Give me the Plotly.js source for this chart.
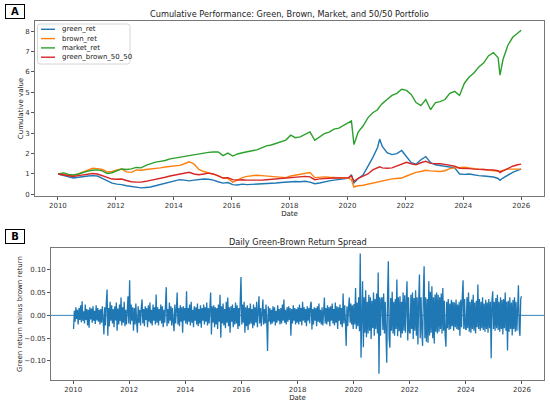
<!DOCTYPE html>
<html>
<head>
<meta charset="utf-8">
<script src="https://cdn.plot.ly/plotly-3.0.1.min.js"></script>
<style>html,body{margin:0;padding:0;background:#fff;}#chart{width:550px;height:403px;}</style>
</head>
<body>
<div id="chart"></div>
<script>
// ---- Panel A data (cumulative value) ----
const dates = [
 "2010-01-04","2010-03-15","2010-05-15","2010-07-15","2010-09-15","2010-11-15",
 "2011-01-15","2011-03-15","2011-05-15","2011-07-15","2011-09-15","2011-11-15",
 "2012-01-15","2012-03-15","2012-05-15","2012-07-15","2012-09-15","2012-11-15",
 "2013-01-15","2013-03-15","2013-05-15","2013-07-15","2013-09-15","2013-11-15",
 "2014-01-15","2014-03-15","2014-05-15","2014-07-15","2014-09-15","2014-11-15",
 "2015-01-15","2015-03-15","2015-05-15","2015-07-15","2015-09-15","2015-11-15",
 "2016-01-15","2016-03-15","2016-05-15","2016-07-15","2016-09-15","2016-11-15",
 "2017-01-15","2017-03-15","2017-05-15","2017-07-15","2017-09-15","2017-11-15",
 "2018-01-15","2018-03-15","2018-05-15","2018-07-15","2018-09-15","2018-11-15",
 "2019-01-15","2019-03-15","2019-05-15","2019-07-15","2019-09-15","2019-11-15",
 "2020-01-15","2020-02-20","2020-03-23","2020-05-15","2020-07-15","2020-09-15","2020-11-15",
 "2021-01-15","2021-02-10","2021-03-15","2021-05-15","2021-07-15","2021-09-15","2021-11-15",
 "2022-01-15","2022-03-15","2022-05-15","2022-07-15","2022-09-15","2022-11-15",
 "2023-01-15","2023-03-15","2023-05-15","2023-07-15","2023-09-15","2023-11-15",
 "2024-01-15","2024-03-15","2024-05-15","2024-07-15","2024-09-15","2024-11-15",
 "2025-01-15","2025-03-15","2025-04-08","2025-05-15","2025-07-15","2025-09-15","2025-11-15","2025-12-31"
];
const greenRet = [
 1.00,0.92,0.85,0.80,0.84,0.88, 0.90,0.92,0.90,0.78,0.68,0.55,
 0.50,0.48,0.42,0.38,0.36,0.32, 0.34,0.36,0.42,0.48,0.52,0.58,
 0.66,0.72,0.70,0.66,0.70,0.74, 0.75,0.74,0.70,0.62,0.55,0.58,
 0.48,0.46,0.50,0.48,0.49,0.50, 0.50,0.52,0.54,0.56,0.58,0.60,
 0.62,0.63,0.62,0.64,0.60,0.52, 0.56,0.62,0.66,0.70,0.72,0.76,
 0.80,0.96,0.56,0.78,0.95,1.35,1.80, 2.30,2.71,2.35,2.05,1.95,2.00,2.15,
 1.85,1.55,1.48,1.70,1.85,1.55, 1.45,1.42,1.38,1.35,1.30,1.00,
 0.98,1.00,0.95,0.92,0.90,0.88, 0.85,0.78,0.69,0.80,0.96,1.08,1.18,1.24
];
const brownRet = [
 1.00,0.98,0.93,0.92,1.00,1.10, 1.20,1.28,1.26,1.22,1.10,1.12,
 1.20,1.24,1.10,1.08,1.20,1.18, 1.22,1.24,1.26,1.30,1.34,1.37,
 1.38,1.42,1.50,1.60,1.48,1.22, 1.12,1.06,1.02,0.92,0.80,0.78,
 0.60,0.72,0.82,0.88,0.92,0.94, 0.92,0.90,0.88,0.86,0.84,0.82,
 0.90,0.94,0.98,1.04,1.07,0.82, 0.84,0.86,0.84,0.82,0.82,0.80,
 0.80,0.72,0.36,0.42,0.45,0.50,0.55, 0.60,0.64,0.68,0.72,0.76,0.78,0.80,
 0.90,1.00,1.08,1.12,1.18,1.15, 1.14,1.12,1.16,1.26,1.30,1.32,
 1.33,1.30,1.26,1.24,1.22,1.20, 1.18,1.14,1.12,1.18,1.24,1.24,1.24,1.24
];
const marketRet = [
 1.00,1.05,0.98,0.95,1.00,1.08, 1.14,1.18,1.20,1.15,1.02,1.06,
 1.15,1.25,1.22,1.25,1.32,1.30, 1.42,1.50,1.58,1.62,1.66,1.74,
 1.78,1.82,1.86,1.92,1.95,2.00, 2.02,2.06,2.08,2.08,1.90,2.02,
 1.88,1.98,2.04,2.10,2.14,2.18, 2.30,2.38,2.42,2.50,2.56,2.66,
 2.90,2.78,2.82,2.95,3.06,2.65, 2.80,2.98,3.05,3.20,3.25,3.38,
 3.50,3.60,2.44,3.05,3.35,3.75,4.00, 4.15,4.30,4.45,4.65,4.85,4.95,5.15,
 5.10,4.90,4.50,4.35,4.65,4.15, 4.50,4.55,4.65,4.95,5.05,4.85,
 5.45,5.75,5.95,6.25,6.45,6.80, 6.95,6.70,5.85,6.60,7.30,7.70,7.90,8.05
];
const greenBrown5050 = [
 1.00,0.95,0.90,0.88,0.92,0.96, 1.00,1.02,1.00,0.92,0.85,0.75,
 0.74,0.75,0.68,0.62,0.60,0.60, 0.64,0.68,0.72,0.78,0.84,0.90,
 0.94,0.98,1.04,1.08,1.00,0.96, 1.00,1.04,1.00,0.90,0.80,0.82,
 0.72,0.70,0.72,0.70,0.69,0.70, 0.70,0.72,0.74,0.76,0.78,0.80,
 0.82,0.84,0.86,0.88,0.86,0.72, 0.76,0.78,0.80,0.80,0.80,0.80,
 0.82,0.91,0.64,0.78,0.90,1.00,1.20, 1.28,1.35,1.30,1.28,1.30,1.40,1.50,
 1.57,1.50,1.45,1.55,1.62,1.52, 1.52,1.50,1.47,1.44,1.38,1.28,
 1.28,1.26,1.24,1.24,1.22,1.20, 1.20,1.16,1.07,1.15,1.28,1.38,1.45,1.48
];
const seriesNames = ['green_ret','brown_ret','market_ret','green_brown_50_50'];

// ---- Panel B data (green minus brown daily spread, readings spread evenly through each year) ----
const spreadYears = [2010,2011,2012,2013,2014,2015,2016,2017,2018,2019,2020,2021,2022,2023,2024,2025];
const spreadByYear = [
 [-0.030,0.010,-0.014,0.018,-0.008,0.012,-0.020,0.016,-0.010,0.022,-0.015,0.031,-0.012,0.009,-0.018,0.024,-0.010,0.014,-0.022,0.012,-0.027,0.018,-0.009,0.015,-0.016,0.020,-0.012,0.010,-0.019,0.022,-0.011,0.016,-0.014,0.012,-0.020,0.014],
 [-0.016,0.020,-0.010,-0.042,0.018,-0.022,0.025,0.057,-0.045,0.016,-0.024,0.030,-0.012,0.022,-0.018,0.014,-0.026,0.020,-0.011,0.028,-0.034,0.015,-0.020,0.024,-0.013,0.039,-0.022,0.018,-0.016,0.030,-0.024,0.012,-0.020,0.026,0.042,-0.018],
 [0.077,-0.020,0.024,-0.012,0.018,-0.034,0.016,-0.020,0.026,-0.014,-0.038,0.020,-0.016,0.012,-0.022,0.018,0.035,-0.018,0.014,-0.024,0.020,-0.010,0.016,-0.026,0.022,-0.014,0.028,-0.018,0.012,-0.022,0.024,-0.012,0.018,-0.020,0.046,-0.016],
 [0.018,-0.022,0.014,-0.012,0.024,-0.018,0.020,-0.026,0.012,-0.016,0.022,0.062,-0.024,0.014,-0.018,0.028,-0.012,0.020,-0.022,0.016,-0.014,-0.035,0.024,-0.018,0.012,0.050,-0.020,0.016,-0.024,0.022,-0.014,0.018,-0.038,0.020,-0.012,0.016],
 [-0.018,0.053,-0.020,0.016,-0.014,0.024,-0.022,0.030,-0.016,0.012,-0.026,0.020,-0.012,0.018,-0.020,0.026,-0.024,0.014,-0.018,0.022,-0.027,0.016,-0.012,0.024,-0.020,0.018,-0.014,0.028,-0.022,0.016,-0.018,0.034,0.050,-0.042,0.020,-0.016],
 [0.022,-0.026,0.018,-0.020,0.016,-0.030,0.024,-0.014,0.045,-0.049,0.020,-0.018,0.026,-0.022,0.014,-0.028,0.030,-0.016,0.039,-0.024,0.018,-0.038,0.020,-0.014,0.024,-0.026,0.016,-0.020,0.028,-0.018,0.022,-0.030,0.016,-0.024,0.020,0.084],
 [-0.020,0.024,-0.016,0.030,-0.038,0.018,-0.024,0.022,-0.032,0.016,-0.020,0.026,-0.018,0.014,-0.028,0.024,-0.022,0.018,-0.016,0.030,-0.026,0.020,0.042,-0.018,0.016,-0.024,0.022,0.035,-0.020,0.014,-0.018,0.024,-0.016,-0.078,0.020,-0.014],
 [0.016,-0.020,0.012,-0.018,0.020,-0.014,0.018,-0.022,0.010,-0.016,0.022,-0.012,0.014,-0.020,0.016,-0.018,0.024,-0.012,0.035,-0.016,0.012,-0.020,0.018,-0.014,0.020,-0.010,0.016,-0.045,0.014,-0.018,0.022,-0.012,0.016,-0.020,0.014,-0.016],
 [0.018,-0.020,0.024,-0.014,0.016,-0.022,0.030,-0.012,0.018,-0.016,0.014,-0.024,0.020,-0.012,0.016,-0.018,0.022,0.030,-0.031,0.014,-0.020,0.018,-0.012,0.016,-0.024,0.020,-0.014,0.026,-0.016,0.012,-0.020,0.018,-0.022,0.014,0.039,-0.018],
 [0.016,-0.020,0.022,-0.014,0.018,-0.024,0.020,-0.012,0.026,-0.018,0.014,-0.022,0.028,-0.016,0.020,-0.030,0.018,-0.012,0.024,-0.020,0.016,-0.026,0.048,-0.018,0.022,-0.014,-0.067,0.020,-0.024,0.018,0.039,-0.016,0.026,-0.020,0.022,-0.030],
 [0.025,-0.020,0.060,-0.030,0.028,-0.024,0.040,-0.035,0.136,-0.093,0.045,0.075,-0.070,0.040,-0.038,0.055,-0.048,0.030,-0.040,0.045,-0.034,0.040,-0.052,0.032,-0.028,0.050,-0.045,0.036,-0.030,0.048,-0.040,0.094,-0.128,0.040,-0.045,0.035],
 [0.040,-0.032,0.048,-0.040,0.030,-0.050,-0.104,0.045,0.119,-0.050,-0.071,0.038,-0.034,0.052,-0.040,0.030,-0.045,0.036,-0.030,0.079,-0.046,0.040,-0.035,0.042,-0.049,0.030,-0.040,0.050,-0.034,0.044,-0.038,0.030,0.075,-0.055,0.040,-0.036],
 [-0.040,0.045,-0.030,0.050,-0.052,0.038,-0.034,0.055,-0.045,0.040,-0.064,0.030,0.090,-0.050,0.040,-0.036,-0.067,0.048,0.108,-0.050,0.040,-0.058,0.036,-0.060,0.075,-0.044,0.052,-0.038,0.064,-0.050,0.040,-0.062,0.046,-0.036,0.050,-0.040],
 [0.045,-0.036,0.040,-0.030,0.048,-0.040,0.060,-0.034,0.032,-0.045,-0.069,0.030,-0.028,0.036,-0.032,0.026,-0.030,0.034,-0.024,0.030,-0.034,0.028,-0.026,0.035,-0.030,0.024,-0.032,0.030,-0.045,0.034,-0.026,0.040,0.077,-0.030,0.036,-0.028],
 [-0.032,0.040,-0.028,0.050,-0.036,0.030,-0.038,0.035,-0.030,0.045,-0.034,0.028,-0.040,0.032,-0.026,0.068,-0.030,0.036,-0.034,0.030,-0.028,0.040,-0.032,0.026,-0.036,0.034,-0.030,0.028,-0.038,0.036,-0.028,0.030,-0.094,0.032,0.053,-0.030],
 [0.030,-0.034,0.038,-0.028,0.045,-0.032,0.030,-0.036,0.040,-0.030,0.034,-0.042,0.036,-0.028,0.050,-0.034,0.030,-0.077,0.032,-0.036,0.040,-0.030,0.028,-0.044,0.034,-0.030,0.040,-0.036,0.030,-0.034,0.038,0.066,-0.030,-0.045,0.036,0.042]
];
const yTickVals = [-0.10,-0.05,0.00,0.05,0.10];
const yTickText = ["\u22120.10","\u22120.05","0.00","0.05","0.10"];

// calendar position of each spread reading
const spreadX = [], spreadY = [];
spreadYears.forEach((yr, i) => {
  const row = spreadByYear[i];
  const t0 = Date.UTC(yr,0,1), t1 = Date.UTC(yr+1,0,1);
  row.forEach((v, k) => {
    const t = t0 + (t1 - t0) * (k + 0.5) / row.length;
    spreadX.push(new Date(t).toISOString().slice(0,10));
    spreadY.push(v);
  });
});

const colors = ['#1f77b4','#ff7f0e','#2ca02c','#d62728'];
const tickFont = {family:'DejaVu Sans, sans-serif', size:7, color:'#333'};
const W = 550, H = 403;
const px = v => v / W, py = v => 1 - v / H;

const seriesVals = [greenRet, brownRet, marketRet, greenBrown5050];
const traces = seriesVals.map((vals, i) => ({
  x:dates, y:vals, name:seriesNames[i], mode:'lines', line:{color:colors[i], width:1.4},
  xaxis:'x', yaxis:'y'
}));
traces.push({x:spreadX, y:spreadY, name:'spread', mode:'lines', line:{color:colors[0], width:1.3},
  xaxis:'x2', yaxis:'y2'});

const xCommon = {
  type:'date', range:['2009-03-18','2026-10-15'], tick0:'2010-01-01', dtick:'M24', tickformat:'%Y',
  showgrid:false, zeroline:false, showline:true, mirror:true, linecolor:'#555', linewidth:0.8,
  ticks:'outside', ticklen:3, tickcolor:'#555', tickfont:tickFont
};

// legend (drawn as shapes + text so the rows are as tight as in the figure)
const lg = {x0:37.5, x1:130, y0:24, y1:64, r:2.5};
const rx = lg.r / W, ry = lg.r / H;
const X0 = px(lg.x0), X1 = px(lg.x1), Y0 = py(lg.y0), Y1 = py(lg.y1);
const boxPath = `M ${X0+rx},${Y0} L ${X1-rx},${Y0} Q ${X1},${Y0} ${X1},${Y0-ry} L ${X1},${Y1+ry} Q ${X1},${Y1} ${X1-rx},${Y1} L ${X0+rx},${Y1} Q ${X0},${Y1} ${X0},${Y1+ry} L ${X0},${Y0-ry} Q ${X0},${Y0} ${X0+rx},${Y0} Z`;
const legendRows = [29.3, 38.6, 47.9, 57.2];
const shapes = [
  {type:'line', xref:'x2 domain', yref:'y2', x0:0, x1:1, y0:0, y1:0, line:{color:colors[0], width:0.9}, layer:'below'},
  {type:'path', xref:'paper', yref:'paper', path:boxPath, fillcolor:'rgba(255,255,255,0.85)', line:{color:'#cccccc', width:0.8}, layer:'above'}
];
const annotations = [
  {text:'Cumulative Performance: Green, Brown, Market, and 50/50 Portfolio', xref:'paper', yref:'paper',
   x:px((35+544)/2), y:py(14), xanchor:'center', yanchor:'middle', showarrow:false, font:{size:8.2, color:'#222'}},
  {text:'Daily Green-Brown Return Spread', xref:'paper', yref:'paper',
   x:px((51+544)/2), y:py(242), xanchor:'center', yanchor:'middle', showarrow:false, font:{size:8.2, color:'#222'}},
  {text:'<b>A</b>', xref:'paper', yref:'paper', x:px(15), y:py(11), xanchor:'center', yanchor:'middle',
   showarrow:false, font:{size:10, color:'#000'}, bordercolor:'#000', borderwidth:1, borderpad:1, bgcolor:'#fff', width:16},
  {text:'<b>B</b>', xref:'paper', yref:'paper', x:px(15), y:py(236), xanchor:'center', yanchor:'middle',
   showarrow:false, font:{size:10, color:'#000'}, bordercolor:'#000', borderwidth:1, borderpad:1, bgcolor:'#fff', width:16}
];
seriesNames.forEach((nm, i) => {
  shapes.push({type:'line', xref:'paper', yref:'paper', x0:px(41), x1:px(55), y0:py(legendRows[i]), y1:py(legendRows[i]),
    line:{color:colors[i], width:1.4}, layer:'above'});
  annotations.push({text:nm, xref:'paper', yref:'paper', x:px(59.5), y:py(legendRows[i]), xanchor:'left', yanchor:'middle',
    showarrow:false, font:{size:7, color:'#222'}});
});

const layout = {
  width:W, height:H, margin:{l:0,r:0,t:0,b:0}, paper_bgcolor:'#fff', plot_bgcolor:'#fff',
  font:{family:'DejaVu Sans, sans-serif', color:'#222'},
  showlegend:false,
  xaxis: Object.assign({}, xCommon, {domain:[px(35), px(544)], anchor:'y',
          title:{text:'Date', font:{size:7, color:'#222'}, standoff:1}}),
  yaxis: {domain:[py(196), py(21)], anchor:'x', range:[-0.08,8.5], dtick:1, tick0:0,
          showgrid:false, zeroline:false, showline:true, mirror:true, linecolor:'#555', linewidth:0.8,
          ticks:'outside', ticklen:3, tickcolor:'#555', tickfont:tickFont,
          title:{text:'Cumulative value', font:{size:7, color:'#222'}, standoff:0}},
  xaxis2: Object.assign({}, xCommon, {domain:[px(51), px(544)], anchor:'y2',
          title:{text:'Date', font:{size:7, color:'#222'}, standoff:0}}),
  yaxis2: {domain:[py(380), py(248)], anchor:'x2', range:[-0.142,0.148],
          tickvals:yTickVals, ticktext:yTickText,
          showgrid:false, zeroline:false, showline:true, mirror:true, linecolor:'#555', linewidth:0.8,
          ticks:'outside', ticklen:3, tickcolor:'#555', tickfont:tickFont,
          title:{text:'Green return minus brown return', font:{size:7, color:'#222'}, standoff:0}},
  shapes, annotations
};

Plotly.newPlot('chart', traces, layout, {staticPlot:true, displayModeBar:false});
</script>
</body>
</html>
